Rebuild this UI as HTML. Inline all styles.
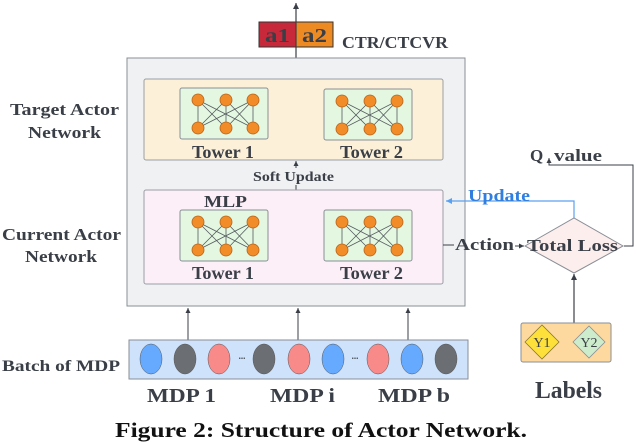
<!DOCTYPE html>
<html><head><meta charset="utf-8"><style>
body{margin:0;background:#fff}
svg{display:block}
text{font-family:"Liberation Serif",serif;font-weight:bold;fill:#3a3f47}
</style></head><body>
<svg width="636" height="442" viewBox="0 0 636 442" xmlns="http://www.w3.org/2000/svg">
<defs>
<marker id="ar" markerWidth="6" markerHeight="6" refX="5" refY="3" orient="auto"><path d="M0,0.5 L5,3 L0,5.5 z" fill="#3a3f47"/></marker>
<marker id="arb" markerWidth="6" markerHeight="6" refX="5" refY="3" orient="auto"><path d="M0,0.5 L5,3 L0,5.5 z" fill="#5aa0f0"/></marker>
<g id="net">
<rect x="0" y="0" width="88" height="51" rx="2" fill="#e3f7e1" stroke="#8a8f96"/>
<g stroke="#555a60" stroke-width="0.8">
<line x1="18" y1="12" x2="18" y2="40"/><line x1="18" y1="12" x2="46" y2="40"/><line x1="18" y1="12" x2="73" y2="40"/>
<line x1="46" y1="12" x2="18" y2="40"/><line x1="46" y1="12" x2="46" y2="40"/><line x1="46" y1="12" x2="73" y2="40"/>
<line x1="73" y1="12" x2="18" y2="40"/><line x1="73" y1="12" x2="46" y2="40"/><line x1="73" y1="12" x2="73" y2="40"/>
</g>
<g fill="#f28c28" stroke="#b8641a" stroke-width="0.8">
<circle cx="18" cy="12" r="6"/><circle cx="46" cy="12" r="6"/><circle cx="73" cy="12" r="6"/>
<circle cx="18" cy="40" r="6"/><circle cx="46" cy="40" r="6"/><circle cx="73" cy="40" r="6"/>
</g>
</g>
</defs>

<line x1="296" y1="79" x2="296" y2="3" stroke="#3a3f47" stroke-width="1.2" marker-end="url(#ar)"/>
<rect x="259" y="22" width="37" height="25" fill="#c7283a" stroke="#333"/>
<rect x="296" y="22" width="37" height="25" fill="#ee8a22" stroke="#333"/>
<line x1="296" y1="22" x2="296" y2="47" stroke="#3a3f47" stroke-width="1.2"/>
<text x="265" y="42" font-size="20" textLength="25" lengthAdjust="spacingAndGlyphs">a1</text>
<text x="302" y="42" font-size="20" textLength="25" lengthAdjust="spacingAndGlyphs">a2</text>
<text x="342" y="48" font-size="17" textLength="106" lengthAdjust="spacingAndGlyphs">CTR/CTCVR</text>

<rect x="127" y="58" width="338" height="248" fill="#f0f1f3" stroke="#8a8f96"/>
<rect x="144" y="79" width="299" height="81" rx="2" fill="#fdf0d8" stroke="#9a9ea4"/>
<use href="#net" x="180" y="88"/>
<use href="#net" x="324" y="89"/>
<text x="192" y="158" font-size="18" textLength="62" lengthAdjust="spacingAndGlyphs">Tower 1</text>
<text x="340" y="158" font-size="18" textLength="63" lengthAdjust="spacingAndGlyphs">Tower 2</text>
<line x1="296" y1="190" x2="296" y2="161" stroke="#3a3f47" stroke-width="1" marker-end="url(#ar)"/>
<rect x="250" y="168" width="88" height="17" fill="#f0f1f3"/>
<text x="253" y="181" font-size="14" textLength="81" lengthAdjust="spacingAndGlyphs">Soft Update</text>
<rect x="144" y="190" width="299" height="94" rx="2" fill="#fdeff8" stroke="#9a9ea4"/>
<text x="204" y="207" font-size="17" textLength="43" lengthAdjust="spacingAndGlyphs">MLP</text>
<use href="#net" x="180" y="210"/>
<use href="#net" x="324" y="210"/>
<text x="192" y="279" font-size="18" textLength="62" lengthAdjust="spacingAndGlyphs">Tower 1</text>
<text x="340" y="279" font-size="18" textLength="63" lengthAdjust="spacingAndGlyphs">Tower 2</text>

<text x="10" y="115" font-size="17" textLength="109" lengthAdjust="spacingAndGlyphs">Target Actor</text>
<text x="28" y="138" font-size="17" textLength="73" lengthAdjust="spacingAndGlyphs">Network</text>
<text x="2" y="240" font-size="17" textLength="119" lengthAdjust="spacingAndGlyphs">Current Actor</text>
<text x="25" y="262" font-size="17" textLength="72" lengthAdjust="spacingAndGlyphs">Network</text>
<text x="2" y="371" font-size="16" textLength="118" lengthAdjust="spacingAndGlyphs">Batch of  MDP</text>

<g stroke="#3a3f47" stroke-width="1">
<line x1="188" y1="340" x2="188" y2="308" marker-end="url(#ar)"/>
<line x1="298" y1="340" x2="298" y2="308" marker-end="url(#ar)"/>
<line x1="408" y1="340" x2="408" y2="308" marker-end="url(#ar)"/>
</g>
<rect x="129" y="340" width="339" height="39" fill="#cfe2fb" stroke="#8a8f96"/>
<g stroke="#555" stroke-width="0.5">
<ellipse cx="151" cy="359" rx="11" ry="15" fill="#66aaff"/>
<ellipse cx="185" cy="359" rx="11" ry="15" fill="#6b6e72"/>
<ellipse cx="219" cy="359" rx="11" ry="15" fill="#f88a8a"/>
<ellipse cx="264" cy="359" rx="11" ry="15" fill="#6b6e72"/>
<ellipse cx="299" cy="359" rx="11" ry="15" fill="#f88a8a"/>
<ellipse cx="333" cy="359" rx="11" ry="15" fill="#66aaff"/>
<ellipse cx="378" cy="359" rx="11" ry="15" fill="#f88a8a"/>
<ellipse cx="412" cy="359" rx="11" ry="15" fill="#66aaff"/>
<ellipse cx="446" cy="359" rx="11" ry="15" fill="#6b6e72"/>
</g>
<text x="242" y="359" font-size="9" text-anchor="middle">...</text>
<text x="355" y="359" font-size="9" text-anchor="middle">...</text>
<text x="147" y="402" font-size="20" textLength="69" lengthAdjust="spacingAndGlyphs">MDP  1</text>
<text x="270" y="402" font-size="20" textLength="65" lengthAdjust="spacingAndGlyphs">MDP  i</text>
<text x="378" y="402" font-size="20" textLength="72" lengthAdjust="spacingAndGlyphs">MDP  b</text>
<text x="115" y="437" font-size="21" textLength="412" lengthAdjust="spacingAndGlyphs" style="fill:#111">Figure 2: Structure of Actor Network.</text>

<polyline points="574,218 574,201 446,201" fill="none" stroke="#5aa0f0" stroke-width="1.2" marker-end="url(#arb)"/>
<text x="468" y="201" font-size="17" textLength="62" lengthAdjust="spacingAndGlyphs" style="fill:#2f7ee0">Update</text>
<polygon points="525,246 574,218 623,246 574,273" fill="#fdeeee" stroke="#8a8f96"/>
<text x="527" y="251" font-size="17" textLength="91" lengthAdjust="spacingAndGlyphs">Total Loss</text>
<line x1="443" y1="245" x2="454" y2="245" stroke="#3a3f47"/>
<text x="455" y="250" font-size="17" textLength="59" lengthAdjust="spacingAndGlyphs">Action</text>
<line x1="515" y1="246" x2="524" y2="246" stroke="#3a3f47" marker-end="url(#ar)"/>
<polyline points="624,246 633,246 633,165 549,165 549,158" fill="none" stroke="#3a3f47" stroke-width="1" marker-end="url(#ar)"/>
<rect x="528" y="145" width="16" height="18" fill="#fff"/>
<rect x="553" y="145" width="50" height="18" fill="#fff"/>
<text x="530" y="161" font-size="17">Q</text>
<text x="554" y="161" font-size="17" textLength="48" lengthAdjust="spacingAndGlyphs">value</text>
<line x1="574" y1="323" x2="574" y2="274" stroke="#3a3f47" stroke-width="1.2" marker-end="url(#ar)"/>
<rect x="521" y="323" width="90" height="39" rx="2" fill="#fdd9a0" stroke="#8a8f96"/>
<polygon points="525,342 542,325 559,342 542,359" fill="#fde03a" stroke="#8a7a30" stroke-width="0.8"/>
<polygon points="573,342 589,326 605,342 589,358" fill="#cdeccc" stroke="#8a8f96" stroke-width="0.8"/>
<text x="542" y="347" font-size="14" text-anchor="middle" style="font-weight:normal">Y1</text>
<text x="589" y="347" font-size="14" text-anchor="middle" style="font-weight:normal">Y2</text>
<text x="535" y="398" font-size="24" textLength="67" lengthAdjust="spacingAndGlyphs">Labels</text>
</svg>
</body></html>
